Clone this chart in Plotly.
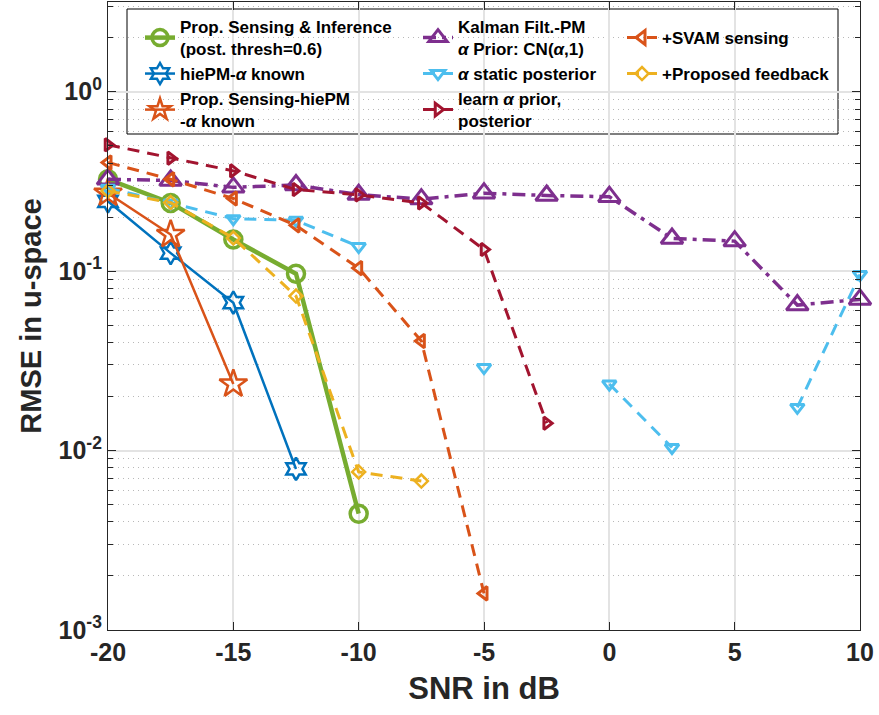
import plotly.graph_objects as go

# SNR grid (dB)
snr = [-20, -17.5, -15, -12.5, -10, -7.5, -5, -2.5, 0, 2.5, 5, 7.5, 10]

# RMSE in u-space for each method (None = not evaluated / not shown)
prop_inference = [0.325, 0.24, 0.150, 0.0967, 0.00445, None, None, None, None, None, None, None, None]
hiepm_known = [0.245, 0.126, 0.0667, 0.0079, None, None, None, None, None, None, None, None, None]
prop_sensing_hiepm = [0.272, 0.16, 0.0235, None, None, None, None, None, None, None, None, None, None]
kalman_pm = [0.325, 0.32, 0.293, 0.302, 0.267, 0.252, 0.272, 0.264, 0.26, 0.152, 0.147, 0.0647, 0.0696]
alpha_static = [0.29, 0.24, 0.196, 0.192, 0.137, None, 0.029, None, 0.0235, 0.0104, None, 0.0174, 0.0958]
learn_alpha = [0.506, 0.426, 0.362, 0.285, 0.266, 0.24, 0.132, 0.0142, None, None, None, None, None]
svam_sensing = [0.403, 0.325, 0.254, 0.18, 0.104, 0.0408, 0.0016, None, None, None, None, None, None]
proposed_feedback = [0.28, 0.241, 0.153, 0.0726, 0.0076, 0.00676, None, None, None, None, None, None, None]

# axis ticks
y_tickvals = [1e-3, 1e-2, 1e-1, 1]
y_ticktext = ["10<sup>-3</sup>", "10<sup>-2</sup>", "10<sup>-1</sup>", "10<sup>0</sup>"]
x_tickvals = [-20, -15, -10, -5, 0, 5, 10]
x_ticktext = ["-20", "-15", "-10", "-5", "0", "5", "10"]

GREEN = "#77AC30"
BLUE = "#0072BD"
ORANGE = "#D95319"
PURPLE = "#7E2F8E"
CYAN = "#4DBEEE"
DARKRED = "#A2142F"
YELLOW = "#EDB120"
AX = "#262626"
FONT = "Liberation Sans, Arial, sans-serif"

W, H = 879, 715
ML, MR, MT, MB = 108, 19, 2, 85
PW, PH = W - ML - MR, H - MT - MB

DASH = "12px,8px"
DASHDOT = "13px,6px,4px,6px"

series = [
    # name, y, color, width, dash, symbol, msize, mlw, legend id, (x px, y px)
    ("Prop. Sensing & Inference<br>(post. thresh=0.6)", prop_inference, GREEN, 4.5, "solid", "circle-open", 17, 3.5, "legend", (140, 38)),
    ("hiePM-<i>α</i> known", hiepm_known, BLUE, 2.5, "solid", "hexagram-open", 17, 2.5, "legend2", (140, 74)),
    ("Prop. Sensing-hiePM<br>-<i>α</i> known", prop_sensing_hiepm, ORANGE, 2.5, "solid", "star-open", 21, 2.5, "legend3", (140, 110)),
    ("Kalman Filt.-PM<br><i>α</i> Prior: CN(<i>α</i>,1)", kalman_pm, PURPLE, 3.5, DASHDOT, "triangle-up-open", 19, 3, "legend4", (418, 38)),
    ("<i>α</i> static posterior", alpha_static, CYAN, 3, DASH, "triangle-down-open", 12, 3, "legend5", (418, 74)),
    ("learn <i>α</i> prior,<br>posterior", learn_alpha, DARKRED, 3, DASH, "triangle-right-open", 11, 3, "legend6", (418, 110)),
    ("+SVAM sensing", svam_sensing, ORANGE, 3, DASH, "triangle-left-open", 12, 3, "legend7", (622, 38)),
    ("+Proposed feedback", proposed_feedback, YELLOW, 3, DASH, "diamond-open", 10, 2.5, "legend8", (622, 74)),
]

fig = go.Figure()
legends = {}
for name, ys, color, lw, dash, sym, ms, mlw, leg, (lx, ly) in series:
    fig.add_trace(go.Scatter(
        x=snr, y=ys, name=name, mode="lines+markers",
        connectgaps=False,
        line=dict(color=color, width=lw, dash=dash),
        marker=dict(symbol=sym, size=ms, color=color, line=dict(color=color, width=mlw)),
        legend=leg, cliponaxis=False,
    ))
    legends[leg] = dict(
        x=(lx - ML) / PW, y=(H - MB - ly) / PH, xanchor="left", yanchor="middle",
        xref="paper", yref="paper", bgcolor="rgba(0,0,0,0)", borderwidth=0,
        font=dict(family=FONT, size=17, color="#000000", weight="bold"), itemsizing="trace",
    )

# minor log gridlines (2..9 within each decade)
minor_vals = [m * 10 ** e for e in (-3, -2, -1, 0) for m in range(2, 10) if m * 10 ** e < 3.2]

# legend frame
fig.add_shape(type="rect", xref="paper", yref="paper",
              x0=(127 - ML) / PW, x1=(838 - ML) / PW,
              y0=(H - MB - 134) / PH, y1=(H - MB - 9) / PH,
              line=dict(color="#000000", width=1), fillcolor="white", layer="between")

fig.update_layout(
    width=W, height=H,
    margin=dict(l=ML, r=MR, t=MT, b=MB),
    paper_bgcolor="white", plot_bgcolor="white",
    font=dict(family=FONT, color=AX),
    showlegend=True,
    **legends,
)

fig.update_xaxes(
    range=[-20, 10], tickvals=x_tickvals, ticktext=x_ticktext,
    tickfont=dict(family=FONT, size=25, color=AX, weight="bold"),
    showgrid=True, gridcolor="#e3e3e3", gridwidth=1.5,
    zeroline=False, showline=True, linecolor=AX, linewidth=1.2, mirror="ticks",
    ticks="inside", ticklen=8, tickcolor=AX,
    title=dict(text="<b>SNR in dB</b>", font=dict(family=FONT, size=31, color=AX), standoff=12),
)
fig.update_yaxes(
    type="log", range=[-3, 0.5], tickvals=y_tickvals, ticktext=y_ticktext,
    tickfont=dict(family=FONT, size=25, color=AX, weight="bold"),
    showgrid=True, gridcolor="#e3e3e3", gridwidth=1.5,
    zeroline=False, showline=True, linecolor=AX, linewidth=1.2, mirror="ticks",
    ticks="inside", ticklen=8, tickcolor=AX,
    minor=dict(tickvals=minor_vals, showgrid=True, gridcolor="#b8b8b8", griddash="1px,4px",
               gridwidth=1, ticks="inside", ticklen=5, tickcolor=AX),
    title=dict(text="<b>RMSE in u-space</b>", font=dict(family=FONT, size=29, color=AX), standoff=8),
)

fig.write_html("out.html")
